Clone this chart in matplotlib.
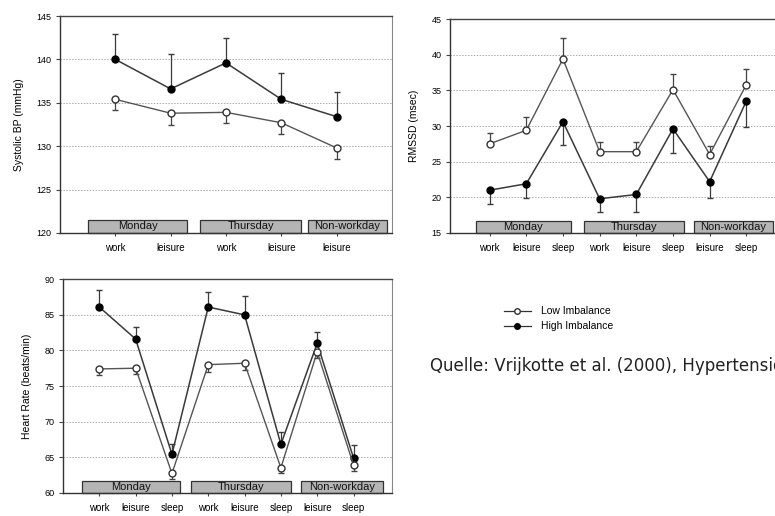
import numpy as np
import matplotlib.pyplot as plt
from matplotlib.patches import Rectangle

plt.rcParams['font.family'] = ['Liberation Sans', 'DejaVu Sans']

# ---- data: systolic BP
bp_labels = ['work', 'leisure', 'work', 'leisure', 'leisure']
bp_high = [140.0, 136.6, 139.6, 135.4, 133.4]
bp_high_err = [142.9, 140.6, 142.5, 138.4, 136.3]
bp_low = [135.4, 133.8, 133.9, 132.7, 129.8]
bp_low_err = [134.2, 132.5, 132.7, 131.4, 128.5]

# ---- data: RMSSD
hrv_labels = ['work', 'leisure', 'sleep', 'work', 'leisure', 'sleep', 'leisure', 'sleep']
hrv_high = [21.0, 21.9, 30.6, 19.8, 20.4, 29.6, 22.2, 33.5]
hrv_high_err = [19.1, 19.9, 27.3, 17.9, 18.0, 26.2, 19.9, 29.8]
hrv_low = [27.5, 29.4, 39.4, 26.4, 26.4, 35.1, 26.0, 35.8]
hrv_low_err = [29.0, 31.3, 42.3, 27.7, 27.7, 37.3, 27.2, 38.0]

# ---- data: heart rate
hr_labels = hrv_labels
hr_high = [86.1, 81.6, 65.4, 86.1, 85.0, 66.8, 81.0, 64.9]
hr_high_err = [88.5, 83.3, 66.9, 88.2, 87.6, 68.6, 82.6, 66.7]
hr_low = [77.4, 77.5, 62.7, 78.0, 78.2, 63.5, 79.8, 63.9]
hr_low_err = [76.5, 76.7, 61.9, 77.0, 77.2, 62.8, 79.0, 63.0]

days = ['Monday', 'Thursday', 'Non-workday']
bp_boxes = [(0.51, 2.30), (2.53, 4.36), (4.48, 5.91)]
hrv_boxes = [(0.62, 3.22), (3.58, 6.29), (6.56, 8.73)]
hr_boxes = [(0.52, 3.22), (3.52, 6.28), (6.56, 8.82)]

fig = plt.figure(figsize=(7.75, 5.16), dpi=100)

def panel(rect, labels, high, high_err, low, low_err, ylim, yticks, ylabel, xlim, boxes, boxh):
    ax = fig.add_axes(rect)
    x = np.arange(1, len(labels) + 1)
    high = np.array(high); low = np.array(low)
    ax.set_xlim(*xlim)
    ax.set_ylim(*ylim)
    for g in yticks[1:-1]:
        ax.axhline(g, color='#aaaaaa', lw=0.7, ls=(0, (1.5, 1.5)), zorder=0)
    # one-sided error bars: high goes up, low goes down
    hup = np.array(high_err) - high
    lup = np.array(low_err) - low
    ax.errorbar(x, high, yerr=[np.clip(-hup, 0, None), np.clip(hup, 0, None)],
                fmt='-o', color='#3a3a3a', mfc='black', mec='black', ms=5,
                lw=1.1, elinewidth=0.9, capsize=2.5, ecolor='#3a3a3a', zorder=3)
    ax.errorbar(x, low, yerr=[np.clip(-lup, 0, None), np.clip(lup, 0, None)],
                fmt='-o', color='#555555', mfc='white', mec='#333333', ms=5,
                lw=1.0, elinewidth=0.9, capsize=2.5, ecolor='#444444', zorder=3)
    for (a, b), d in zip(boxes, days):
        ax.add_patch(Rectangle((a, ylim[0]), b - a, boxh, fc='#b5b5b5', ec='#333333',
                               lw=0.9, zorder=2, clip_on=False))
        ax.text((a + b) / 2, ylim[0] + boxh / 2, d, ha='center', va='center',
                fontsize=8, color='#111111', zorder=4)
    ax.set_xticks(x)
    ax.set_xticklabels(labels, fontsize=7)
    ax.set_yticks(yticks)
    ax.set_yticklabels([str(t) for t in yticks], fontsize=6.5)
    ax.tick_params(axis='x', length=2.5, pad=5, color='#444444')
    ax.tick_params(axis='y', length=3, pad=3, color='#444444')
    ax.set_ylabel(ylabel, fontsize=7.5, labelpad=9)
    for s in ['left', 'bottom']:
        ax.spines[s].set_color('#333333')
        ax.spines[s].set_linewidth(1.0)
    ax.spines['top'].set_color('#444444')
    ax.spines['top'].set_linewidth(1.0)
    ax.spines['right'].set_color('#888888')
    ax.spines['right'].set_linewidth(0.8)
    return ax

panel([60 / 775, 1 - 233 / 516, 332 / 775, 217 / 516], bp_labels, bp_high, bp_high_err,
      bp_low, bp_low_err, (120, 145), [120, 125, 130, 135, 140, 145],
      'Systolic BP (mmHg)', (0, 6), bp_boxes, 1.5)

panel([450 / 775, 1 - 233 / 516, 333 / 775, 214 / 516], hrv_labels, hrv_high, hrv_high_err,
      hrv_low, hrv_low_err, (15, 45), [15, 20, 25, 30, 35, 40, 45],
      'RMSSD (msec)', (-0.08, 9), hrv_boxes, 1.7)

panel([63 / 775, 1 - 492.7 / 516, 329 / 775, 213.4 / 516], hr_labels, hr_high, hr_high_err,
      hr_low, hr_low_err, (60, 90), [60, 65, 70, 75, 80, 85, 90],
      'Heart Rate (beats/min)', (0, 9.06), hr_boxes, 1.7)

# legend and source note
leg = fig.add_axes([0, 0, 1, 1], facecolor='none')
leg.set_axis_off()
leg.set_xlim(0, 775)
leg.set_ylim(516, 0)
leg.plot([504, 531], [311, 311], '-', color='#333333', lw=0.9)
leg.plot([517], [311], 'o', mfc='white', mec='#333333', ms=4)
leg.plot([504, 531], [326, 326], '-', color='#333333', lw=0.9)
leg.plot([517], [326], 'o', color='black', ms=4)
leg.text(541, 311, 'Low Imbalance', fontsize=7.5, va='center', ha='left')
leg.text(541, 326, 'High Imbalance', fontsize=7.5, va='center', ha='left')
leg.text(430, 366, 'Quelle: Vrijkotte et al. (2000), Hypertension', fontsize=12,
         family='DejaVu Sans', va='center', ha='left', color='#222222')

fig.savefig('out.png', dpi=100)
